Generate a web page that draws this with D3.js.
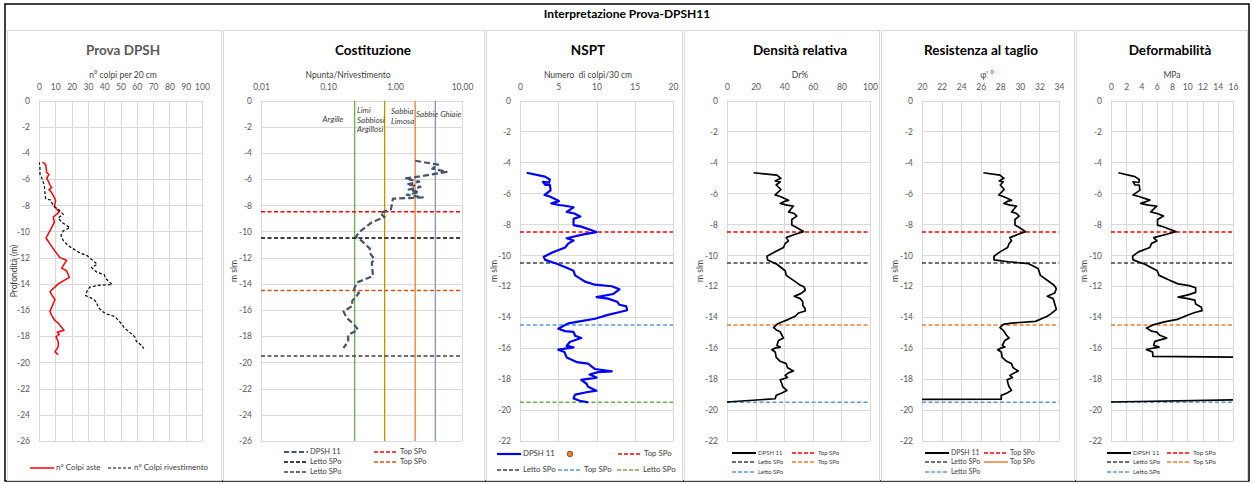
<!DOCTYPE html>
<html><head><meta charset="utf-8">
<script src="https://cdn.jsdelivr.net/npm/d3@7"></script>
<style>body{margin:0;background:#fff}svg{font-family:Lato,"Open Sans",sans-serif}text{white-space:pre}</style>
</head><body>
<script>
// ---------------- DATA (depth in m, value) ----------------
const colpiAste = [[4.7,2.2],[4.9,4.1],[5.5,4.7],[5.65,6.1],[5.95,4.7],[6.15,5.7],[6.4,6.5],[6.65,7.8],[6.8,6.1],[7.05,7.8],[7.4,9.4],[7.65,10.2],[8.1,9.4],[8.5,12.4],[8.9,8.8],[9.3,9.4],[9.95,6.7],[10.5,4.3],[10.95,6.7],[11.5,9.8],[12.0,12.9],[12.2,16.9],[12.8,13.9],[13.0,16.9],[13.5,18.6],[14.0,11.8],[14.6,6.7],[14.95,8.4],[15.2,9.8],[15.5,8.8],[16.1,6.7],[16.4,7.8],[16.8,9.8],[17.0,11.8],[17.55,15.3],[17.7,11.2],[17.85,12.4],[18.05,10.4],[18.4,11.8],[18.8,11.8],[19.2,9.8],[19.4,11.8]];
const colpiRivestimento = [[4.7,0],[5.15,0.6],[5.65,0.6],[6.0,2],[6.5,3.3],[7.15,3.7],[7.5,4.1],[7.6,7.1],[8.05,8.8],[8.3,11.8],[8.7,14.9],[8.95,11.8],[9.3,13.9],[9.7,19],[9.95,14.9],[10.3,13.5],[10.7,14.9],[11.1,18],[11.35,21.4],[11.65,25.1],[11.85,29.6],[12.25,33.3],[12.5,35.7],[12.75,32.2],[13.1,35.3],[13.3,40],[13.6,41],[14.05,44.9],[14.1,37.3],[14.25,31.2],[14.5,29.6],[14.9,28.6],[15.15,33.3],[15.4,35.3],[15.8,36.3],[16.15,39.4],[16.3,41.4],[16.5,46.5],[16.9,49.6],[17.4,52.7],[17.8,56.7],[18.05,58.8],[18.4,59.8],[18.7,62.9],[18.95,64.3]];
const rapportoPR = [[4.6,2.0],[4.9,4.4],[5.2,3.6],[5.45,5.9],[5.8,2.35],[5.95,1.41],[6.2,2.3],[6.4,1.5],[6.6,2.4],[6.8,1.6],[7.0,2.3],[7.2,1.5],[7.4,2.6],[7.5,0.93],[8.3,0.87],[8.6,0.6],[8.9,0.7],[9.3,0.45],[10.0,0.30],[10.4,0.26],[10.6,0.3],[11.3,0.42],[11.63,0.42],[12.1,0.49],[12.4,0.45],[13.4,0.47],[13.9,0.27],[14.4,0.245],[14.7,0.29],[15.3,0.23],[15.7,0.23],[16.1,0.17],[16.6,0.19],[17.1,0.245],[17.5,0.28],[17.9,0.2],[18.4,0.2],[18.9,0.17]];
const limitiTerreni = [0.25, 0.7, 2, 4];
const nomiTerreni = ["Argille", "Limi Sabbiosi Argillosi", "Sabbia Limosa", "Sabbie Ghiaie"];
const nspt = [[4.67,0.87],[4.92,3.26],[5.1,3.9],[5.3,3.8],[5.25,3.0],[5.45,3.3],[5.45,3.9],[5.8,4.0],[6.1,3.2],[6.2,3.9],[6.5,5.1],[6.65,4.1],[6.75,5.1],[6.8,5.9],[6.9,7.0],[7.2,6.1],[7.3,7.1],[7.5,7.9],[7.65,7.0],[8.05,7.0],[8.15,8.0],[8.5,10.0],[8.65,8.3],[8.9,6.1],[9.05,7.0],[9.25,6.3],[9.5,5.9],[9.8,4.3],[10.1,3.1],[10.3,3.3],[10.55,4.8],[10.8,6.1],[11.0,7.0],[11.3,7.2],[11.7,8.5],[11.9,9.8],[12.0,12.0],[12.2,13.0],[12.5,12.2],[12.7,10.0],[12.8,11.5],[13.0,12.7],[13.2,13.0],[13.3,13.9],[13.55,14.0],[13.7,12.8],[13.85,11.5],[14.1,9.8],[14.25,8.0],[14.4,6.3],[14.75,5.0],[14.9,5.9],[14.95,7.0],[15.2,7.2],[15.35,8.0],[15.6,6.5],[15.85,6.1],[15.95,7.0],[16.05,5.65],[16.1,5.0],[16.25,5.8],[16.6,6.1],[16.9,7.4],[17.0,8.9],[17.35,9.8],[17.5,12.0],[17.55,10.2],[17.7,9.1],[17.9,10.0],[18.05,8.0],[18.3,8.7],[18.5,8.9],[18.75,10.0],[18.85,8.7],[19.0,7.2],[19.25,7.0],[19.4,7.8],[19.5,8.9]];
const densitaRelativa = [[4.67,18.6],[4.82,34.9],[5.03,37.7],[5.2,33.7],[5.25,37.2],[5.46,34.4],[5.75,37.7],[6.1,33.7],[6.2,37.2],[6.45,43],[6.5,40.7],[6.65,37.2],[6.76,41.9],[6.82,46.5],[7.2,43],[7.3,47],[7.47,48.8],[7.69,45.3],[8.05,45.3],[8.16,47.7],[8.47,53.5],[8.64,47.7],[8.86,41.4],[9.07,43],[9.24,40.7],[9.5,39.5],[9.78,33.7],[10.06,27.9],[10.3,28.4],[10.58,34.9],[11.0,40.7],[11.3,41.4],[11.62,46.5],[11.9,50.7],[12.05,54],[12.26,54.7],[12.48,51.6],[12.65,47],[12.8,51.2],[13.0,53],[13.23,53],[13.45,54.7],[13.6,54.7],[13.73,50],[13.94,47.7],[14.14,43],[14.31,38.4],[14.46,34.9],[14.68,32.6],[14.85,34.9],[14.94,37.2],[15.17,38.4],[15.35,39.5],[15.5,36],[15.83,34.9],[15.93,37.2],[16.0,33.7],[16.1,31.4],[16.25,33.7],[16.6,34.4],[16.85,37.2],[17.0,41.4],[17.26,42.3],[17.48,46.5],[17.6,43],[17.76,40.7],[17.9,42.3],[18.05,37.2],[18.3,38.4],[18.5,39],[18.73,41.9],[18.9,38.4],[19.05,34.4],[19.27,33.7],[19.48,0]];
const angoloAttrito = [[4.67,26.27],[4.82,27.97],[5.03,28.37],[5.2,27.9],[5.25,28.3],[5.46,28.0],[5.75,28.4],[6.1,27.86],[6.2,28.3],[6.45,29.15],[6.5,28.8],[6.65,28.37],[6.76,29.0],[6.82,29.66],[7.2,29.15],[7.3,29.66],[7.47,29.93],[7.69,29.5],[8.05,29.5],[8.16,29.83],[8.47,30.58],[8.64,29.83],[8.86,28.98],[9.07,29.15],[9.24,28.9],[9.5,28.75],[9.78,27.97],[10.06,27.36],[10.3,27.36],[10.42,28.8],[10.54,30.9],[10.86,31.86],[11.3,32.1],[11.66,32.9],[11.94,33.5],[12.16,33.73],[12.44,33.56],[12.65,32.8],[12.8,33.4],[13.13,33.56],[13.5,33.73],[13.77,33.2],[13.94,32.8],[14.27,31.6],[14.38,29.15],[14.46,28.3],[14.68,27.97],[14.85,28.3],[15.17,28.64],[15.35,28.9],[15.5,28.47],[15.83,28.2],[15.93,28.47],[16.0,28.07],[16.1,27.73],[16.25,28.1],[16.6,28.2],[16.85,28.64],[17.0,29.15],[17.26,29.3],[17.48,29.83],[17.6,29.42],[17.76,28.98],[17.9,29.25],[18.05,28.7],[18.3,28.8],[18.5,28.9],[18.73,29.15],[18.9,28.7],[19.05,28.1],[19.3,28.1],[19.33,0]];
const moduloDeformazione = [[4.67,0.96],[4.92,3.14],[5.1,3.7],[5.3,3.66],[5.25,2.9],[5.46,3.14],[5.46,3.7],[5.79,3.8],[6.1,2.9],[6.2,3.66],[6.44,5.1],[6.48,4.9],[6.65,3.9],[6.76,4.9],[6.82,6.0],[7.2,5.2],[7.3,6.06],[7.47,6.9],[7.69,6.1],[8.05,6.1],[8.16,6.84],[8.47,8.5],[8.64,7.3],[8.86,5.6],[9.07,6.0],[9.24,5.3],[9.5,5.1],[9.78,3.6],[10.06,2.83],[10.3,2.9],[10.58,4.45],[11.0,6.06],[11.3,6.3],[11.62,7.7],[11.85,8.8],[11.96,10.25],[12.1,11.1],[12.4,11.1],[12.56,10.1],[12.7,8.8],[12.78,9.9],[12.9,11.0],[13.15,11.1],[13.36,11.86],[13.58,11.94],[13.7,11.0],[13.86,10.1],[14.14,8.7],[14.3,7.0],[14.5,5.5],[14.7,4.66],[14.9,5.3],[14.97,6.0],[15.17,6.4],[15.35,7.3],[15.56,5.75],[15.82,5.6],[15.93,6.3],[16.04,5.1],[16.1,4.66],[16.25,5.45],[16.53,5.5],[16.6,22],[17.5,24],[18.5,23],[19.3,22],[19.48,0]];
const topSPo1 = -8.5, lettoSPo1 = -10.5, topSPo2 = -14.5, lettoSPo2 = -19.5;
const ticksColpi = d3.range(0, 101, 10);
const ticksRapporto = [0.01, 0.1, 1, 10];
const ticksNspt = [0,5,10,15,20];
const ticksDr = [0,20,40,60,80,100];
const ticksPhi = d3.range(20, 35, 2);
const ticksMpa = d3.range(0, 17, 2);
const ticksProf26 = d3.range(0, -27, -2);
const ticksProf22 = d3.range(0, -23, -2);

// ---------------- DRAW ----------------
const W = 1253, H = 484;
const svg = d3.select("body").append("svg").attr("width", W).attr("height", H);
const GRID = "#d9d9d9", TXT = "#595959";
const C = {red:"#ff0000", black:"#000000", dgray:"#404040", brown:"#c55a11", orange:"#ed7d31", lblue:"#5b9bd5", lgreen:"#70ad47", blue:"#0000ff", slate:"#44546a"};

svg.append("rect").attr("x",5).attr("y",4).attr("width",1244).attr("height",477).attr("fill","none").attr("stroke","#000").attr("stroke-width",1.5);
svg.append("text").attr("x",627).attr("y",15).attr("text-anchor","middle").attr("dominant-baseline","middle")
  .attr("font-size",12).attr("font-weight","bold").text("Interpretazione Prova-DPSH11");

const boxes = [[7,222],[223,485],[486,683],[684,880],[881,1075],[1076,1248]];
boxes.forEach(b => svg.append("rect").attr("x",b[0]+0.5).attr("y",30.5).attr("width",b[1]-b[0]-1).attr("height",450).attr("fill","none").attr("stroke",GRID));

let clipId = 0;
function panel(cfg) {
  const g = svg.append("g");
  const x = cfg.log ? d3.scaleLog().domain(cfg.xdom).range(cfg.xr) : d3.scaleLinear().domain(cfg.xdom).range(cfg.xr);
  const y = d3.scaleLinear().domain(cfg.ydom).range([100.5, 441]);
  g.selectAll(".hg").data(cfg.yticks).join("line").attr("x1",cfg.xr[0]).attr("x2",cfg.xr[1])
    .attr("y1",d=>Math.round(y(d))+0.5).attr("y2",d=>Math.round(y(d))+0.5).attr("stroke",GRID);
  g.selectAll(".vg").data(cfg.vgrid).join("line").attr("y1",y(cfg.ydom[0])).attr("y2",y(cfg.ydom[1]))
    .attr("x1",d=>Math.round(x(d))+0.5).attr("x2",d=>Math.round(x(d))+0.5).attr("stroke",GRID);
  const ax = g.append("g").attr("transform",`translate(0,${y(cfg.ydom[0])-3})`)
    .call(d3.axisTop(x).tickValues(cfg.xticks).tickSize(0).tickPadding(8).tickFormat(cfg.xfmt || (d=>String(d))));
  const ay = g.append("g").attr("transform",`translate(${cfg.xr[0]-1},0)`)
    .call(d3.axisLeft(y).tickValues(cfg.yticks).tickSize(0).tickPadding(8).tickFormat(d=>String(d)));
  [ax, ay].forEach(a => { a.select(".domain").remove(); a.selectAll("text").attr("fill",TXT).attr("font-size",8.5).attr("font-family","Lato,sans-serif"); });
  g.append("text").attr("x",cfg.tx).attr("y",52).attr("text-anchor","middle").attr("dominant-baseline","middle")
    .attr("font-size",13.5).attr("font-weight","bold").attr("fill",cfg.tcol||"#000").text(cfg.title);
  g.append("text").attr("x",cfg.sx).attr("y",76).attr("text-anchor","middle").attr("dominant-baseline","middle")
    .attr("font-size",8.5).attr("fill","#404040").text(cfg.sub);
  g.append("text").attr("transform",`translate(${cfg.ylx},271) rotate(-90)`).attr("text-anchor","middle").attr("dominant-baseline","middle")
    .attr("font-size",8.5).attr("fill","#404040").text(cfg.ylab);
  const id = "clip" + (clipId++);
  svg.append("clipPath").attr("id",id).append("rect").attr("x",cfg.xr[0]).attr("y",y(cfg.ydom[0])).attr("width",cfg.xr[1]-cfg.xr[0]).attr("height",y(cfg.ydom[1])-y(cfg.ydom[0]));
  const pg = g.append("g").attr("clip-path",`url(#${id})`);
  (cfg.vlines||[]).forEach(v => pg.append("line").attr("x1",x(v.v)).attr("x2",x(v.v)).attr("y1",y(cfg.ydom[0])).attr("y2",y(cfg.ydom[1])).attr("stroke",v.c).attr("stroke-width",1.3));
  (cfg.hlines||[]).forEach(h => pg.append("line").attr("x1",cfg.xr[0]).attr("x2",cfg.xr[1]).attr("y1",y(h.v)).attr("y2",y(h.v)).attr("stroke",h.c).attr("stroke-width",1.5).attr("stroke-dasharray","4,2.5"));
  const line = d3.line().x(d=>x(d[1])).y(d=>y(-d[0]));
  cfg.series.forEach(s => pg.append("path").datum(s.data).attr("d",line).attr("fill","none").attr("stroke",s.c).attr("stroke-width",s.w).attr("stroke-dasharray",s.dash||null).attr("stroke-linejoin","round"));
  const lfs = cfg.lfs || 8;
  (cfg.legend||[]).forEach(l => {
    if (l.marker) {
      g.append("circle").attr("cx",l.x+12).attr("cy",l.y).attr("r",2.8).attr("fill",C.orange).attr("stroke","#7f3f00").attr("stroke-width",0.8);
      return;
    }
    g.append("line").attr("x1",l.x).attr("x2",l.x+24).attr("y1",l.y).attr("y2",l.y).attr("stroke",l.c).attr("stroke-width",l.w||1.5).attr("stroke-dasharray",l.dash||null);
    g.append("text").attr("x",l.x+26).attr("y",l.y).attr("dominant-baseline","middle").attr("font-size",lfs).attr("fill","#404040").text(l.t);
  });
  return {g, x, y};
}

// Panel 1
panel({xdom:[0,100], xr:[39,202], ydom:[0,-26], yticks:ticksProf26, xticks:ticksColpi, vgrid:ticksColpi,
  title:"Prova DPSH", tcol:TXT, tx:123, sub:"n° colpi per 20 cm", sx:123, ylab:"Profondità (m)", ylx:15, lfs:8,
  series:[{data:colpiAste,c:C.red,w:1.5},{data:colpiRivestimento,c:C.black,w:1.2,dash:"3,2"}],
  legend:[{x:30,y:468,c:C.red,t:"n° Colpi aste"},{x:108,y:468,c:C.black,w:1.2,dash:"3,2",t:"n° Colpi rivestimento"}]});

// Panel 2
const p2 = panel({log:true, xdom:[0.01,10], xr:[261,462], ydom:[0,-26], yticks:ticksProf26, xticks:ticksRapporto, vgrid:[0.01,10],
  xfmt:d=>d3.format(".2f")(d).replace(".",","),
  title:"Costituzione", tx:373, sub:"Npunta/Nrivestimento", sx:348, ylab:"m slm", ylx:235, lfs:7.5,
  vlines:[{v:limitiTerreni[0],c:"#70ad47"},{v:limitiTerreni[1],c:"#bf9000"},{v:limitiTerreni[2],c:"#ed7d31"},{v:limitiTerreni[3],c:"#8497b0"}],
  hlines:[{v:topSPo1,c:C.red},{v:lettoSPo1,c:C.black},{v:topSPo2,c:C.brown},{v:lettoSPo2,c:C.dgray}],
  series:[{data:rapportoPR,c:C.slate,w:2.2,dash:"6,3"}],
  legend:[{x:284,y:452,c:C.slate,w:2.2,dash:"5,2.5",t:"DPSH 11"},{x:374,y:452,c:C.red,dash:"4,2",t:"Top SPo"},
          {x:284,y:462,c:C.black,dash:"4,2",t:"Letto SPo"},{x:374,y:462,c:C.brown,dash:"4,2",t:"Top SPo"},
          {x:284,y:472,c:C.dgray,dash:"4,2",t:"Letto SPo"}]});
const lab = p2.g.append("g").attr("font-size",8).attr("font-style","italic").attr("fill","#404040");
lab.append("text").attr("x",333).attr("y",120).attr("text-anchor","middle").attr("dominant-baseline","middle").text(nomiTerreni[0]);
["Limi","Sabbiosi","Argillosi"].forEach((t,i)=>lab.append("text").attr("x",357).attr("y",111+i*9.5).attr("dominant-baseline","middle").text(t));
["Sabbia","Limosa"].forEach((t,i)=>lab.append("text").attr("x",391).attr("y",112+i*10).attr("dominant-baseline","middle").text(t));
lab.append("text").attr("x",416).attr("y",115).attr("dominant-baseline","middle").text(nomiTerreni[3]);

// Panel 3
panel({xdom:[0,20], xr:[520,673], ydom:[0,-22], yticks:ticksProf22, xticks:ticksNspt, vgrid:ticksNspt,
  title:"NSPT", tx:588, sub:"Numero  di colpi/30 cm", sx:588, ylab:"m slm", ylx:495, lfs:7.8,
  hlines:[{v:topSPo1,c:C.red},{v:lettoSPo1,c:C.dgray},{v:topSPo2,c:C.lblue},{v:lettoSPo2,c:C.lgreen}],
  series:[{data:nspt,c:C.blue,w:2.2}],
  legend:[{x:497,y:454,c:C.blue,w:2.2,t:"DPSH 11"},{x:558,y:454,marker:true},{x:618,y:454,c:C.red,dash:"4,2",t:"Top SPo"},
          {x:497,y:470,c:C.dgray,dash:"4,2",t:"Letto SPo"},{x:558,y:470,c:C.lblue,dash:"4,2",t:"Top SPo"},{x:617,y:470,c:C.lgreen,dash:"4,2",t:"Letto SPo"}]});

// Panels 4-6
const commonH = [{v:topSPo1,c:C.red},{v:lettoSPo1,c:C.dgray},{v:topSPo2,c:C.orange},{v:lettoSPo2,c:C.lblue}];
function leg(x0, x1, solidOrange) {
  return [{x:x0,y:453,c:C.black,w:2,t:"DPSH 11"},{x:x1,y:453,c:C.red,dash:"4,2",t:"Top SPo"},
          {x:x0,y:462,c:C.dgray,dash:"4,2",t:"Letto SPo"},{x:x1,y:462,c:C.orange,dash:solidOrange?null:"4,2",t:"Top SPo"},
          {x:x0,y:472,c:C.lblue,dash:"4,2",t:"Letto SPo"}];
}
panel({xdom:[0,100], xr:[727,870], ydom:[0,-22], yticks:ticksProf22, xticks:ticksDr, vgrid:ticksDr,
  title:"Densità relativa", tx:800, sub:"Dr%", sx:800, ylab:"m slm", ylx:701, lfs:6,
  hlines:commonH, series:[{data:densitaRelativa,c:C.black,w:1.7}], legend:leg(732,792,false)});
panel({xdom:[20,34], xr:[922,1059], ydom:[0,-22], yticks:ticksProf22, xticks:ticksPhi, vgrid:ticksPhi,
  title:"Resistenza al taglio", tx:981, sub:"φ' °", sx:987, ylab:"m slm", ylx:896, lfs:7,
  hlines:commonH, series:[{data:angoloAttrito,c:C.black,w:1.7}], legend:leg(925,984,true)});
panel({xdom:[0,16], xr:[1111,1233], ydom:[0,-22], yticks:ticksProf22, xticks:ticksMpa, vgrid:ticksMpa,
  title:"Deformabilità", tx:1170, sub:"MPa", sx:1172, ylab:"m slm", ylx:1085, lfs:6.5,
  hlines:commonH, series:[{data:moduloDeformazione,c:C.black,w:1.7}], legend:leg(1107,1167,false)});
</script>
</body></html>
